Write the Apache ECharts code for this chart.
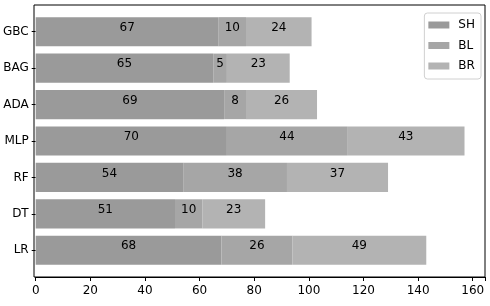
<!DOCTYPE html>
<html>
<head>
<meta charset="utf-8">
<script src="https://cdn.jsdelivr.net/npm/echarts@6/dist/echarts.min.js"></script>
<style>html,body{margin:0;padding:0;background:#fff;}#c{width:490px;height:306px;}</style>
</head>
<body>
<div id="c"></div>
<script>
const categories = ['GBC', 'BAG', 'ADA', 'MLP', 'RF', 'DT', 'LR'];
const seriesNames = ['SH', 'BL', 'BR'];
const SH = [67, 65, 69, 70, 54, 51, 68];
const BL = [10, 5, 8, 44, 38, 10, 26];
const BR = [24, 23, 26, 43, 37, 23, 49];
const xTicks = [0, 20, 40, 60, 80, 100, 120, 140, 160];

const colors = ['#9a9a9a', '#a6a6a6', '#b3b3b3'];
const font = 'DejaVu Sans';
const chart = echarts.init(document.getElementById('c'), null, {renderer: 'canvas'});
const values = [SH, BL, BR];
chart.setOption({
  animation: false,
  textStyle: {fontFamily: font},
  grid: [
    {left: 34, right: 5, top: 13.5, bottom: 37.5},
    {left: 34, right: 5, top: 5, bottom: 29, show: true, borderColor: '#000', borderWidth: 1, backgroundColor: 'transparent', z: 10}
  ],
  legend: {
    orient: 'vertical', right: 9, top: 13,
    data: seriesNames,
    itemWidth: 21, itemHeight: 7, itemGap: 8.5,
    padding: [6, 6, 7, 4],
    borderColor: '#d0d0d0', borderWidth: 1, borderRadius: 3,
    backgroundColor: '#fff',
    textStyle: {fontFamily: font, fontSize: 12, color: '#000', padding: [0, 0, 0, 4]},
    icon: 'rect'
  },
  xAxis: [
    {
      gridIndex: 0, type: 'value', min: 0, max: 164.5, interval: 20, offset: 8.5,
      axisLine: {show: true, lineStyle: {color: '#000'}},
      axisTick: {show: true, length: 4, lineStyle: {color: '#000'}},
      axisLabel: {fontFamily: font, fontSize: 12, color: '#000', margin: 8,
        formatter: v => xTicks.includes(v) ? String(v) : ''},
      splitLine: {show: false}
    },
    {gridIndex: 1, type: 'value', min: 0, max: 1, show: false}
  ],
  yAxis: [
    {
      gridIndex: 0, type: 'category', data: categories, inverse: true,
      axisLine: {show: false},
      axisTick: {show: true, length: 4, alignWithLabel: true, lineStyle: {color: '#000'}},
      axisLabel: {fontFamily: font, fontSize: 12, color: '#000', margin: 7},
      splitLine: {show: false}
    },
    {gridIndex: 1, type: 'value', min: 0, max: 1, show: false}
  ],
  series: seriesNames.map((name, i) => ({
    name: name, type: 'bar', stack: 'total',
    xAxisIndex: 0, yAxisIndex: 0,
    barWidth: '80%',
    data: values[i],
    itemStyle: {color: colors[i]},
    label: {show: true, position: 'inside', offset: [0, -4], color: '#000', fontFamily: font, fontSize: 12}
  }))
});
</script>
</body>
</html>
